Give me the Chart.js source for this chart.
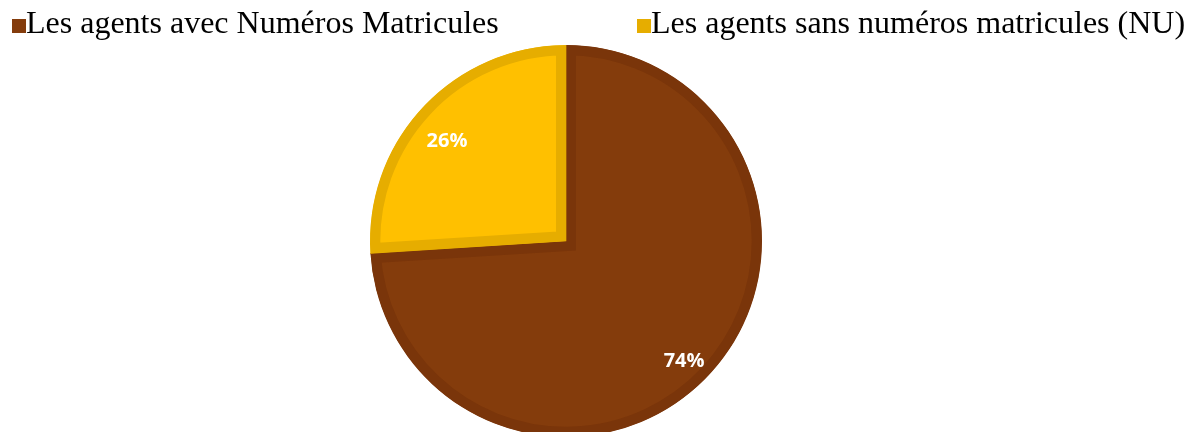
<!DOCTYPE html>
<html>
<head>
<meta charset="utf-8">
<script src="https://cdn.jsdelivr.net/npm/chart.js@4.4.1/dist/chart.umd.min.js"></script>
<style>
  html, body { margin: 0; padding: 0; background: #ffffff; }
  #wrap { position: relative; width: 1202px; height: 432px; }
</style>
</head>
<body>
<div id="wrap"><canvas id="c" width="1202" height="432"></canvas></div>
<script>
const categories = ['Les agents avec Numéros Matricules', 'Les agents sans numéros matricules (NU)'];
const values = [74, 26];
const valueLabels = ['74%', '26%'];
const fillColors = ['#843C0C', '#FFC000'];
const borderColors = ['#7A350A', '#E6AD00'];
const legendColors = ['#843C0C', '#E6AD00'];

const legendPlugin = {
  id: 'customLegend',
  afterDraw(chart) {
    const ctx = chart.ctx;
    ctx.save();
    ctx.font = '32px "Liberation Serif", "Times New Roman", serif';
    ctx.textBaseline = 'alphabetic';
    ctx.textAlign = 'left';
    const xs = [12, 637];
    const baseline = 33;
    chart.data.labels.forEach((lab, i) => {
      ctx.fillStyle = legendColors[i];
      ctx.fillRect(xs[i], baseline - 14, 14, 14);
      ctx.fillStyle = '#000000';
      ctx.fillText(lab, xs[i] + 14, baseline);
    });
    ctx.restore();
  }
};

const labelPlugin = {
  id: 'pctLabels',
  afterDatasetsDraw(chart) {
    const ctx = chart.ctx;
    const meta = chart.getDatasetMeta(0);
    const ratios = [0.855, 0.795];
    const angleShift = [2 * Math.PI / 180, -3 * Math.PI / 180];
    ctx.save();
    ctx.font = 'bold 20px "Open Sans", "Liberation Sans", sans-serif';
    ctx.fillStyle = '#ffffff';
    ctx.textAlign = 'center';
    ctx.textBaseline = 'middle';
    meta.data.forEach((arc, i) => {
      const p = arc.getProps(['x', 'y', 'startAngle', 'endAngle', 'outerRadius'], true);
      const mid = (p.startAngle + p.endAngle) / 2 + angleShift[i];
      const r = p.outerRadius * ratios[i];
      ctx.fillText(valueLabels[i], p.x + Math.cos(mid) * r, p.y + Math.sin(mid) * r + 1);
    });
    ctx.restore();
  }
};

new Chart(document.getElementById('c'), {
  type: 'pie',
  data: {
    labels: categories,
    datasets: [{
      data: values,
      backgroundColor: fillColors,
      borderColor: borderColors,
      borderWidth: 10,
      borderAlign: 'inner',
      borderJoinStyle: 'miter',
      hoverOffset: 0
    }]
  },
  options: {
    responsive: false,
    animation: false,
    radius: 196,
    rotation: 0,
    layout: { padding: { top: 60, bottom: 10, left: 0, right: 70 } },
    plugins: {
      legend: { display: false },
      tooltip: { enabled: false }
    }
  },
  plugins: [legendPlugin, labelPlugin]
});
</script>
</body>
</html>
